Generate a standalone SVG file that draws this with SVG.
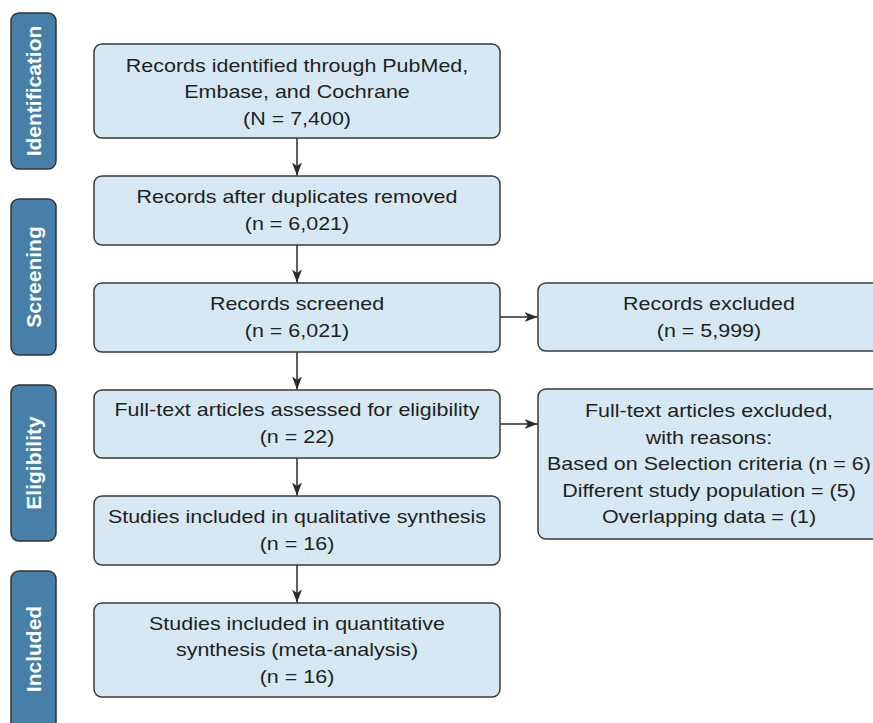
<svg xmlns="http://www.w3.org/2000/svg" width="873" height="723" viewBox="0 0 873 723">
<defs>
<style>
.side{fill:#4680a8;stroke:#333;stroke-width:1.5}
.box{fill:#d6e8f3;stroke:#3a3a3a;stroke-width:1.5}
.st{font-family:"Liberation Sans",Arial,sans-serif;font-weight:bold;font-size:21px;fill:#fff;text-anchor:middle}
.t{font-family:"Liberation Sans",Arial,sans-serif;font-size:19px;fill:#231f20;text-anchor:middle}
.c{fill:none;stroke:#2a2a2a;stroke-width:1.5}
</style>
<marker id="ah" markerUnits="userSpaceOnUse" markerWidth="14" markerHeight="10" refX="13" refY="5" orient="auto" viewBox="0 0 14 10">
<path d="M0,0 L13,5 L0,10 L3.5,5 z" fill="#2a2a2a"/>
</marker>
</defs>
<rect width="873" height="723" fill="#fff"/>

<g id="stage-identification">
<rect class="side" x="11" y="13" width="45" height="156" rx="8"/>
<text class="st" transform="translate(41 91) rotate(-90)">Identification</text>
</g>
<g id="stage-screening">
<rect class="side" x="11" y="199" width="45" height="156" rx="8"/>
<text class="st" transform="translate(41 277) rotate(-90)">Screening</text>
</g>
<g id="stage-eligibility">
<rect class="side" x="11" y="385" width="45" height="156" rx="8"/>
<text class="st" transform="translate(41 463) rotate(-90)">Eligibility</text>
</g>
<g id="stage-included">
<rect class="side" x="11" y="571" width="45" height="160" rx="8"/>
<text class="st" transform="translate(41 649) rotate(-90)">Included</text>
</g>

<g id="connectors">
<line class="c" x1="297" y1="138" x2="297" y2="175.5" marker-end="url(#ah)"/>
<line class="c" x1="297" y1="245" x2="297" y2="282.5" marker-end="url(#ah)"/>
<line class="c" x1="297" y1="352" x2="297" y2="389.5" marker-end="url(#ah)"/>
<line class="c" x1="297" y1="458" x2="297" y2="495.5" marker-end="url(#ah)"/>
<line class="c" x1="297" y1="565" x2="297" y2="602.5" marker-end="url(#ah)"/>
<line class="c" x1="500" y1="317" x2="537.5" y2="317" marker-end="url(#ah)"/>
<line class="c" x1="500" y1="424" x2="537.5" y2="424" marker-end="url(#ah)"/>
</g>

<g id="identified">
<rect class="box" x="94" y="44" width="406" height="94" rx="8"/>
<g transform="translate(297 0) scale(1.13 1)">
<text class="t" x="0" y="72">Records identified through PubMed,</text>
<text class="t" x="0" y="98.5">Embase, and Cochrane</text>
<text class="t" x="0" y="125">(N = 7,400)</text>
</g>
</g>
<g id="deduplicated">
<rect class="box" x="94" y="176" width="406" height="69" rx="8"/>
<g transform="translate(297 0) scale(1.13 1)">
<text class="t" x="0" y="203">Records after duplicates removed</text>
<text class="t" x="0" y="230">(n = 6,021)</text>
</g>
</g>
<g id="screened">
<rect class="box" x="94" y="283" width="406" height="69" rx="8"/>
<g transform="translate(297 0) scale(1.13 1)">
<text class="t" x="0" y="310">Records screened</text>
<text class="t" x="0" y="337">(n = 6,021)</text>
</g>
</g>
<g id="excluded">
<rect class="box" x="538" y="283" width="342" height="68" rx="8"/>
<g transform="translate(709 0) scale(1.13 1)">
<text class="t" x="0" y="310">Records excluded</text>
<text class="t" x="0" y="337">(n = 5,999)</text>
</g>
</g>
<g id="fulltext">
<rect class="box" x="94" y="390" width="406" height="68" rx="8"/>
<g transform="translate(297 0) scale(1.13 1)">
<text class="t" x="0" y="416.5">Full-text articles assessed for eligibility</text>
<text class="t" x="0" y="443.5">(n = 22)</text>
</g>
</g>
<g id="fulltext-excluded">
<rect class="box" x="538" y="389" width="342" height="150" rx="8"/>
<g transform="translate(709 0) scale(1.13 1)">
<text class="t" x="0" y="417.5">Full-text articles excluded,</text>
<text class="t" x="0" y="444">with reasons:</text>
<text class="t" x="0" y="470.5">Based on Selection criteria (n = 6)</text>
<text class="t" x="0" y="497">Different study population = (5)</text>
<text class="t" x="0" y="523.5">Overlapping data = (1)</text>
</g>
</g>
<g id="qualitative">
<rect class="box" x="94" y="496" width="406" height="69" rx="8"/>
<g transform="translate(297 0) scale(1.13 1)">
<text class="t" x="0" y="523">Studies included in qualitative synthesis</text>
<text class="t" x="0" y="550">(n = 16)</text>
</g>
</g>
<g id="quantitative">
<rect class="box" x="94" y="603" width="406" height="94" rx="8"/>
<g transform="translate(297 0) scale(1.13 1)">
<text class="t" x="0" y="630">Studies included in quantitative</text>
<text class="t" x="0" y="656.5">synthesis (meta-analysis)</text>
<text class="t" x="0" y="683">(n = 16)</text>
</g>
</g>
</svg>
